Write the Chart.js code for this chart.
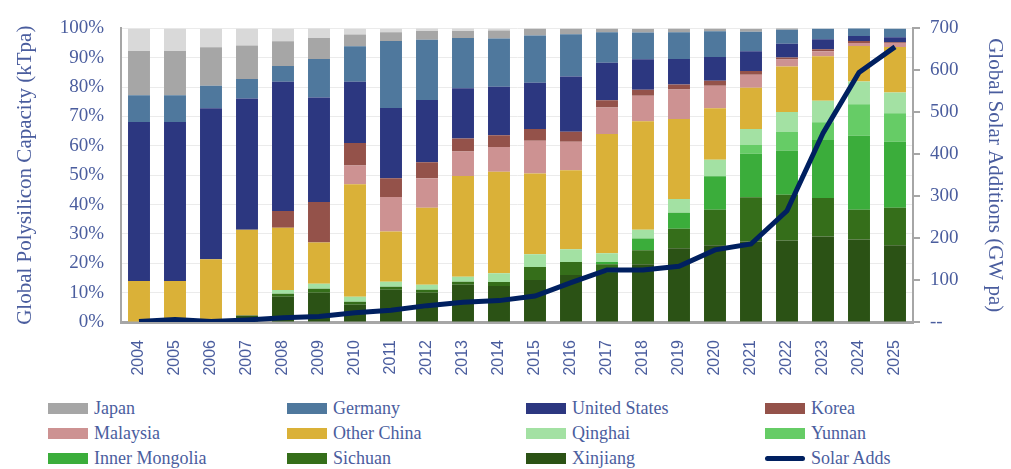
<!DOCTYPE html>
<html>
<head>
<meta charset="utf-8">
<script src="https://cdn.jsdelivr.net/npm/chart.js@4.4.1/dist/chart.umd.min.js"></script>
<style>
  body { margin:0; background:#fff; width:1011px; height:469px; overflow:hidden; }
  #wrap { position:relative; width:1011px; height:390px; }
  #legend { position:absolute; left:48px; top:398px; display:grid; grid-template-columns:239px 239px 239px 239px; row-gap:4px; }
  .item { display:flex; align-items:center; height:21px; font-family:"Liberation Serif","DejaVu Serif",serif; font-size:18px; color:#4A5D9E; }
  .box { width:40px; height:11px; margin-right:6px; }
  .ln { width:40px; height:5px; border-radius:3px; margin-right:6px; }
</style>
</head>
<body>
<div id="wrap"><canvas id="polyChart" width="1011" height="390"></canvas></div>
<div id="legend"></div>
<script>
const years = ['2004','2005','2006','2007','2008','2009','2010','2011','2012','2013','2014','2015','2016','2017','2018','2019','2020','2021','2022','2023','2024','2025'];

// shares of global polysilicon capacity, % (bottom of stack first)
const xinjiang      = [0,0,0,2.2,8.6,10.0,5.9,11.0,10.0,12.7,12.3,14.3,16.0,16.7,19.7,25.1,26.1,27.4,27.8,29.1,28.1,26.1];
const sichuan       = [0,0,0,0,1.0,1.3,1.0,1.0,1.0,1.0,1.3,4.4,4.4,3.0,4.7,6.7,12.1,15.1,15.5,13.1,10.1,12.8];
const innerMongolia = [0,0,0,0,0,0,0,0,0,0,0,0,0,0.7,4.0,5.4,11.4,14.8,15.1,19.8,25.2,22.5];
const yunnan        = [0,0,0,0,0,0,0,0,0,0,0,0,0,0,0,0,0,3.0,6.4,6.0,10.8,9.7];
const qinghai       = [0,0,0,0,1.3,1.7,1.7,1.7,1.7,1.7,3.0,4.4,4.4,3.0,3.0,4.7,5.7,5.4,6.7,7.4,7.7,7.1];
const otherChina    = [14.0,14.0,21.4,29.2,21.2,14.1,38.3,17.1,26.2,34.3,34.6,27.5,26.9,40.6,37.0,27.2,17.5,14.1,15.5,15.1,12.1,15.5];
const malaysia      = [0,0,0,0,0,0,6.4,11.8,10.1,8.4,8.4,11.1,9.7,9.1,8.7,10.1,7.7,4.4,2.4,1.7,1.0,1.3];
const korea         = [0,0,0,0,5.7,13.8,7.7,6.4,5.4,4.4,4.0,4.0,3.4,2.4,2.0,1.7,1.7,1.3,0.7,0.7,0.7,0.3];
const unitedStates  = [54.1,54.1,51.4,44.7,44.0,35.6,20.8,23.9,21.2,17.1,16.5,15.8,18.8,12.8,10.4,8.7,8.1,6.7,4.7,3.4,1.7,1.7];
const germany       = [9.1,9.1,7.7,6.7,5.4,13.1,12.1,22.8,20.5,17.1,16.5,16.1,14.4,10.4,9.1,9.1,8.7,6.7,4.7,3.7,2.7,3.0];
const japan         = [15.1,15.1,13.1,11.4,8.4,7.1,4.0,3.0,3.0,2.4,2.7,2.4,2.0,1.3,1.3,1.3,1.0,1.0,0.7,0,0,0];
const restOfWorld   = [7.7,7.7,6.4,5.7,4.4,3.4,2.0,1.3,1.0,1.0,0.7,0,0,0,0,0,0,0,0,0,0,0];

// global solar additions, GW pa
const solarAdds = [1,6,1,5,10,13,22,28,39,47,51,62,94,124,124,133,172,186,265,450,595,656];

const leftTicks = [0,10,20,30,40,50,60,70,80,90,100];
const rightTicks = [0,100,200,300,400,500,600,700];

const txt = '#4A5D9E';
const axisGray = '#A6A6A6';
const serif = '"Liberation Serif","DejaVu Serif",serif';

const barSeries = [
  { label:'Xinjiang', data:xinjiang, color:'#2B5215' },
  { label:'Sichuan', data:sichuan, color:'#356E1A' },
  { label:'Inner Mongolia', data:innerMongolia, color:'#3BAD3B' },
  { label:'Yunnan', data:yunnan, color:'#66CC66' },
  { label:'Qinghai', data:qinghai, color:'#A3E1A3' },
  { label:'Other China', data:otherChina, color:'#DAB138' },
  { label:'Malaysia', data:malaysia, color:'#CD9292' },
  { label:'Korea', data:korea, color:'#94524A' },
  { label:'United States', data:unitedStates, color:'#2C3780' },
  { label:'Germany', data:germany, color:'#4F789D' },
  { label:'Japan', data:japan, color:'#A6A6A6' },
  { label:'Other', data:restOfWorld, color:'#D9D9D9' }
];

const datasets = barSeries.map(s => ({
  type:'bar', label:s.label, data:s.data, backgroundColor:s.color,
  yAxisID:'y', stack:'cap', order:1, barPercentage:0.61, categoryPercentage:1
}));
datasets.push({
  type:'line', label:'Solar Adds', data:solarAdds, yAxisID:'y1', order:0,
  borderColor:'#002060', borderWidth:5, pointRadius:0, tension:0, fill:false
});

const ctx = document.getElementById('polyChart').getContext('2d');
new Chart(ctx, {
  data:{ labels:years, datasets:datasets },
  options:{
    responsive:false, animation:false,
    layout:{ padding:{ top:20, bottom:0, left:0, right:0 } },
    plugins:{ legend:{ display:false }, tooltip:{ enabled:false } },
    scales:{
      x:{
        stacked:true,
        grid:{ display:false },
        border:{ color:axisGray, width:3 },
        ticks:{ color:txt, font:{ family:'"Liberation Sans",Arial,sans-serif', size:16 }, maxRotation:90, minRotation:90, padding:10 },
        afterFit:s => { s.height = 68; }
      },
      y:{
        stacked:true, min:0, max:100, position:'left',
        afterBuildTicks:s => { s.ticks = leftTicks.map(v => ({ value:v })); },
        grid:{ color:'#EBEBEB', drawTicks:false },
        border:{ color:axisGray, width:2 },
        ticks:{ color:txt, font:{ family:serif, size:19 }, padding:17, callback:v => v + '%' },
        title:{ display:true, text:'Global Polysilicon Capacity (kTpa)', color:txt, font:{ family:serif, size:21 }, padding:{ top:13, bottom:6 } },
        afterFit:s => { s.width = 121; }
      },
      y1:{
        min:0, max:700, position:'right',
        afterBuildTicks:s => { s.ticks = rightTicks.map(v => ({ value:v })); },
        grid:{ drawOnChartArea:false, color:axisGray, tickLength:7, lineWidth:2 },
        border:{ color:axisGray, width:2 },
        ticks:{ color:txt, font:{ family:serif, size:19 }, padding:10, callback:v => v === 0 ? '--' : v },
        title:{ display:true, text:'Global Solar Additions (GW pa)', color:txt, font:{ family:serif, size:21 }, padding:{ top:4, bottom:0 } },
        afterFit:s => { s.width = 98; }
      }
    }
  }
});

// legend laid out as a 4-column grid, like the original
const legendOrder = ['Japan','Germany','United States','Korea','Malaysia','Other China','Qinghai','Yunnan','Inner Mongolia','Sichuan','Xinjiang','Solar Adds'];
const legendDiv = document.getElementById('legend');
legendOrder.forEach(name => {
  const item = document.createElement('div');
  item.className = 'item';
  const mark = document.createElement('span');
  if (name === 'Solar Adds') {
    mark.className = 'ln';
    mark.style.background = '#002060';
  } else {
    mark.className = 'box';
    mark.style.background = barSeries.find(s => s.label === name).color;
  }
  item.appendChild(mark);
  item.appendChild(document.createTextNode(name));
  legendDiv.appendChild(item);
});
</script>
</body>
</html>
